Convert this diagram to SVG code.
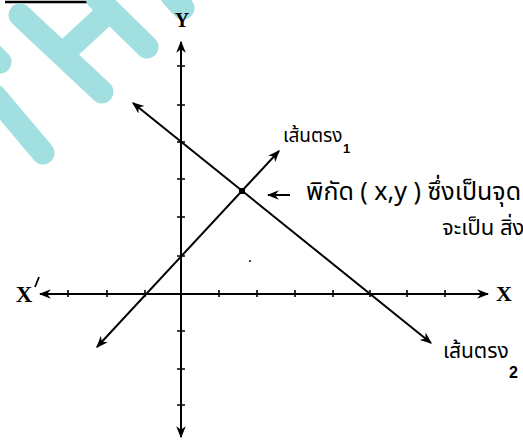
<svg xmlns="http://www.w3.org/2000/svg" width="523" height="447" viewBox="0 0 523 447">
<style>
.wm{stroke:#a2dfe0;stroke-width:23;stroke-linecap:round;fill:none}
.ax{stroke:#000;stroke-width:2;fill:none}
.ln{stroke:#000;stroke-width:2;fill:none}
.tk{stroke:#000;stroke-width:1.6}
.th{font-family:"Noto Sans Thai","Noto Sans","Loma","Garuda","Norasi","DejaVu Sans",sans-serif;fill:#000}
.lat{font-family:"Liberation Serif","DejaVu Serif",serif;fill:#000;font-weight:bold}
.sub{font-family:"Liberation Sans","DejaVu Sans",sans-serif;fill:#000;font-weight:bold}
</style>
<defs>
<marker id="ah" viewBox="0 0 10 10" refX="9" refY="5" markerWidth="6" markerHeight="6" orient="auto-start-reverse" markerUnits="strokeWidth">
<path d="M0,1 L10,5 L0,9 L3,5 Z" fill="#000"/>
</marker>
</defs>
<rect width="523" height="447" fill="#fff"/>
<line x1="5" y1="2" x2="112" y2="2" stroke="#000" stroke-width="2.5"/>
<g id="watermark">
<line class="wm" x1="20" y1="15" x2="102" y2="92"/>
<line class="wm" x1="97" y1="-2" x2="147" y2="47"/>
<line class="wm" x1="67" y1="50" x2="107" y2="13"/>
<line class="wm" x1="-10" y1="52" x2="0" y2="62"/>
<line class="wm" x1="-5" y1="96" x2="43" y2="153"/>
<line class="wm" x1="172" y1="-4" x2="183" y2="8"/>
</g>
<g id="axes">
<line class="ax" x1="40" y1="294" x2="488" y2="294" marker-start="url(#ah)" marker-end="url(#ah)"/>
<line class="ax" x1="181" y1="42" x2="181" y2="437" marker-start="url(#ah)" marker-end="url(#ah)"/>
<g id="ticks">
<path class="tk" d="M68,290v7M107,290v7M145,290v7M219,290v7M257,290v7M295,290v7M333,290v7M370,290v7M407,290v7M445,290v7"/>
<path class="tk" d="M177,66h8M177,105h8M177,142h8M177,179h8M177,217h8M177,256h8M177,331h8M177,369h8M177,405h8"/>
</g>
</g>
<g id="connectors">
<line class="ln" x1="133" y1="103" x2="431" y2="343" marker-start="url(#ah)" marker-end="url(#ah)"/>
<line class="ln" x1="97" y1="347" x2="279" y2="151" marker-start="url(#ah)" marker-end="url(#ah)"/>
<line class="ln" x1="290" y1="195" x2="268" y2="195" stroke-width="1.5" marker-end="url(#ah)"/>
</g>
<g id="intersection">
<rect x="239" y="188" width="6" height="6" fill="#000"/>
</g>
<circle cx="250" cy="261" r="1" fill="#000"/>
<g id="label-y"><text class="lat" x="182" y="27" font-size="20" text-anchor="middle">Y</text></g>
<g id="label-x"><text class="lat" x="504" y="301" font-size="22" text-anchor="middle">X</text></g>
<g id="label-x-prime"><text class="lat" x="24" y="302" font-size="23" text-anchor="middle">X</text><line x1="35" y1="287" x2="39" y2="277" stroke="#000" stroke-width="1.8"/></g>
<g id="label-line1"><text class="th" x="283" y="142" font-size="19">เส้นตรง</text><text class="sub" x="343" y="153" font-size="13">1</text></g>
<g id="label-line2"><text class="th" x="443" y="358" font-size="21">เส้นตรง</text><text class="sub" x="509" y="378" font-size="16">2</text></g>
<g id="label-point"><text class="th" x="306" y="200" font-size="25">พิกัด ( x,y ) ซึ่งเป็นจุด</text><text class="th" x="442" y="235" font-size="22">จะเป็น สิ่ง</text></g>
</svg>
